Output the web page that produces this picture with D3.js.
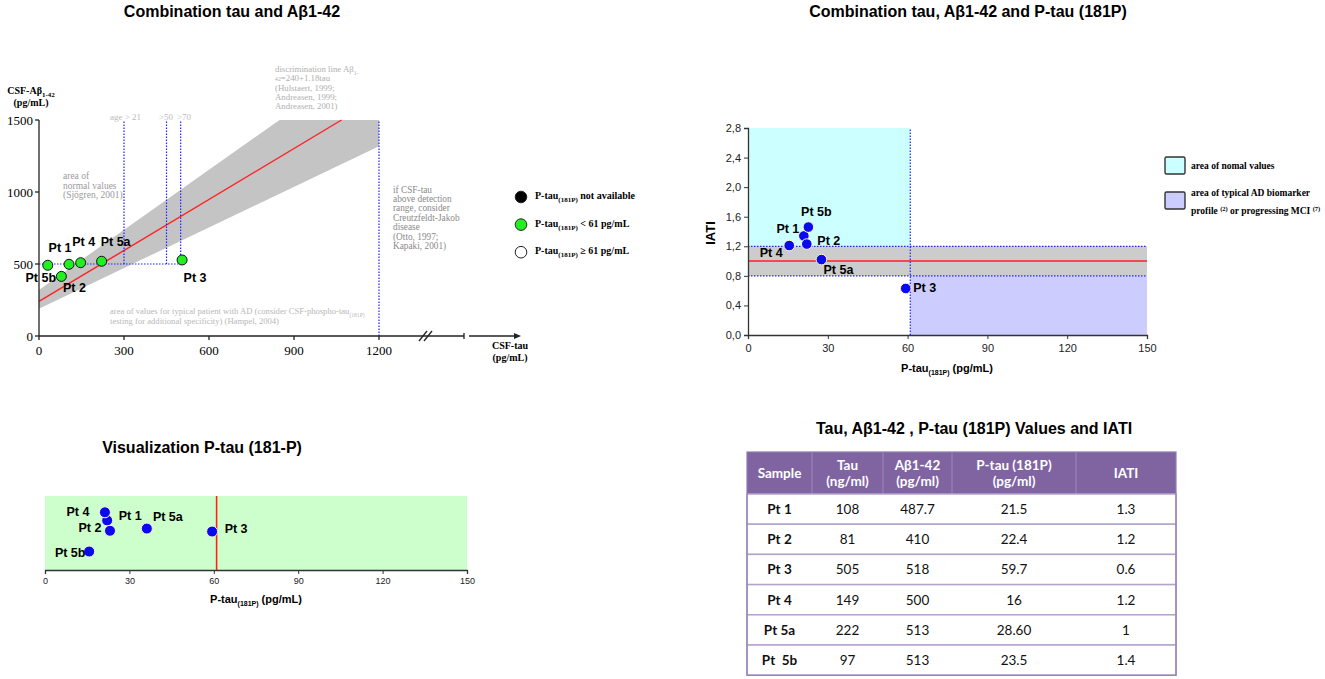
<!DOCTYPE html>
<html>
<head>
<meta charset="utf-8">
<script src="https://cdn.jsdelivr.net/npm/d3@7"></script>
<style>
  body { margin: 0; background: #fff; }
  svg { display: block; }
  .serif { font-family: "Liberation Serif", "DejaVu Serif", serif; }
  .sans { font-family: "Liberation Sans", Arial, sans-serif; }
  .tbl { font-family: Lato, "Open Sans", sans-serif; }
</style>
</head>
<body>
<svg id="chart" width="1325" height="679"></svg>
<script>
// ---- data ----
const patients = ["Pt 1", "Pt 2", "Pt 3", "Pt 4", "Pt 5a", "Pt 5b"];

// panel 1: tau vs Abeta1-42 (as plotted)
const tauPlot = [106, 79, 505, 147, 221, 31];
const abetaPlot = [498, 414, 528, 509, 519, 491];
const tauTicks = [0, 300, 600, 900, 1200];
const abetaTicks = [0, 500, 1000, 1500];
const discLine = { intercept: 240, slope: 1.18 };
const bandLow = { intercept: 190, slope: 0.94 };
const bandHigh = { intercept: 320, slope: 1.39 };
const ageCutoffs = [300, 450, 500];
const ageLabels = ["age > 21", ">50", ">70"];

// panel 2: P-tau vs IATI
const ptau2 = [21.0, 22.1, 59.3, 15.5, 27.6, 22.7];
const iati2 = [1.34, 1.23, 0.63, 1.21, 1.02, 1.46];
const iatiTicks = [0, 0.4, 0.8, 1.2, 1.6, 2.0, 2.4, 2.8];
const ptauTicks = [0, 30, 60, 90, 120, 150];
const ptauCut = 61;
const iatiBand = [0.8, 1.2];

// panel 3: P-tau strip
const ptau3 = [22.1, 23.1, 59.4, 21.3, 36.2, 15.7];
const lane3 = [6.7, 5.3, 5.2, 7.8, 5.6, 2.5];

// table
const tableHeader = [["Sample"], ["Tau", "(ng/ml)"], ["Aβ1-42", "(pg/ml)"], ["P-tau (181P)", "(pg/ml)"], ["IATI"]];
const tableRows = [
  ["Pt 1", "108", "487.7", "21.5", "1.3"],
  ["Pt 2", "81", "410", "22.4", "1.2"],
  ["Pt 3", "505", "518", "59.7", "0.6"],
  ["Pt 4", "149", "500", "16", "1.2"],
  ["Pt 5a", "222", "513", "28.60", "1"],
  ["Pt  5b", "97", "513", "23.5", "1.4"]
];

// ---- layout ----
const off1 = [[-9, -16], [13, 12], [13, 18], [3, -21], [14, -19], [-7, 13]];
const off2 = [[-16, -7], [22, -3], [19, 0], [-18, 7], [17, 10], [8, -15]];
const off3 = [[23, -4], [-20, -3], [24, -3], [-27, 0], [21, -12], [-19, 1]];

const svg = d3.select("#chart");

function title(x, y, txt) {
  svg.append("text").attr("class", "sans").attr("x", x).attr("y", y)
    .attr("text-anchor", "middle").style("font-size", "16px").style("font-weight", "bold")
    .text(txt);
}
function ptLabels(g, xs, ys, offs, size) {
  g.selectAll("text.pt").data(patients).join("text").attr("class", "pt sans")
    .attr("x", (d, i) => xs[i] + offs[i][0]).attr("y", (d, i) => ys[i] + offs[i][1])
    .attr("text-anchor", "middle").attr("dominant-baseline", "central")
    .style("font-size", size + "px").style("font-weight", "bold").text(d => d);
}
// text with subscript: parts = [[text, isSub], ...]; a leading subscript is only shrunk
function richText(sel, parts, subSize) {
  let shift = 0;
  parts.forEach(([t, sub], i) => {
    const want = sub && i > 0 ? 3 : 0;
    const ts = sel.append("tspan").text(t);
    if (want !== shift) ts.attr("dy", want - shift);
    if (sub) ts.style("font-size", subSize + "px");
    shift = want;
  });
  return sel;
}

// ================= Panel 1 =================
title(232, 17, "Combination tau and Aβ1-42");
{
  const x = d3.scaleLinear([0, 1200], [39, 379]);
  const y = d3.scaleLinear([0, 1500], [336, 120]);
  const g = svg.append("g");
  const yMax = 1500;

  // grey band between the two bounding lines
  const tHigh = (yMax - bandHigh.intercept) / bandHigh.slope;
  const band = [
    [0, bandLow.intercept], [1200, bandLow.intercept + bandLow.slope * 1200],
    [1200, yMax], [tHigh, yMax], [0, bandHigh.intercept]
  ];
  g.append("path").attr("d", d3.line(d => x(d[0]), d => y(d[1]))(band) + "Z")
    .attr("fill", "#c4c4c4");

  // discrimination line
  const tEnd = (yMax - discLine.intercept) / discLine.slope;
  g.append("line").attr("x1", x(0)).attr("y1", y(discLine.intercept))
    .attr("x2", x(tEnd)).attr("y2", y(yMax)).attr("stroke", "#ff2020").attr("stroke-width", 1.4);

  const dotted = { stroke: "#2020ff", "stroke-width": 1.2, "stroke-dasharray": "1.5,1.5" };
  function dline(x1, y1, x2, y2) {
    const l = g.append("line").attr("x1", x1).attr("y1", y1).attr("x2", x2).attr("y2", y2);
    Object.entries(dotted).forEach(([k, v]) => l.attr(k, v));
  }
  dline(x(0), y(500), x(500), y(500));
  ageCutoffs.forEach(t => dline(x(t), y(500), x(t), y(yMax)));
  dline(x(1200), y(0), x(1200), y(yMax));

  // age labels
  const ageX = [110, 159, 177];
  g.selectAll("text.age").data(ageLabels).join("text").attr("class", "age serif")
    .attr("x", (d, i) => ageX[i]).attr("y", 120).style("font-size", "9px").attr("fill", "#bbb").text(d => d);

  // axes
  const axis = g.append("g").attr("stroke", "#222").attr("stroke-width", 1.3);
  axis.append("line").attr("x1", x(0)).attr("y1", y(0)).attr("x2", x(0)).attr("y2", y(yMax));
  axis.append("line").attr("x1", x(0)).attr("y1", y(0)).attr("x2", 464).attr("y2", y(0));
  axis.append("line").attr("x1", 464).attr("y1", y(0) - 3).attr("x2", 464).attr("y2", y(0) + 3);
  // axis break
  axis.append("line").attr("x1", 419).attr("y1", y(0) + 5).attr("x2", 427).attr("y2", y(0) - 5);
  axis.append("line").attr("x1", 424).attr("y1", y(0) + 5).attr("x2", 432).attr("y2", y(0) - 5);
  axis.append("line").attr("x1", 469).attr("y1", y(0)).attr("x2", 517).attr("y2", y(0));
  g.append("path").attr("d", `M521,${y(0)} l-7,-3 l0,6 Z`).attr("fill", "#222");

  abetaTicks.forEach(v => {
    axis.append("line").attr("x1", x(0) - 4).attr("x2", x(0)).attr("y1", y(v)).attr("y2", y(v));
    g.append("text").attr("class", "serif").attr("x", 33).attr("y", y(v)).attr("dy", "0.35em")
      .attr("text-anchor", "end").style("font-size", "13px").text(v);
  });
  tauTicks.forEach(v => {
    axis.append("line").attr("x1", x(v)).attr("x2", x(v)).attr("y1", y(0)).attr("y2", y(0) + 4);
    g.append("text").attr("class", "serif").attr("x", x(v)).attr("y", 355)
      .attr("text-anchor", "middle").style("font-size", "13px").text(v);
  });

  // axis titles
  const yt = g.append("text").attr("class", "serif").attr("x", 31).attr("y", 94)
    .attr("text-anchor", "middle").style("font-size", "10px").style("font-weight", "bold");
  richText(yt, [["CSF-Aβ", false], ["1-42", true]], 7);
  g.append("text").attr("class", "serif").attr("x", 31).attr("y", 106).attr("text-anchor", "middle")
    .style("font-size", "10px").style("font-weight", "bold").text("(pg/mL)");
  g.append("text").attr("class", "serif").attr("x", 510).attr("y", 349).attr("text-anchor", "middle")
    .style("font-size", "10px").style("font-weight", "bold").text("CSF-tau");
  g.append("text").attr("class", "serif").attr("x", 510).attr("y", 361).attr("text-anchor", "middle")
    .style("font-size", "10px").style("font-weight", "bold").text("(pg/mL)");

  // annotations
  function block(x0, y0, dy, lines, color, size) {
    const t = g.append("text").attr("class", "serif").attr("fill", color).style("font-size", size + "px");
    lines.forEach((ln, i) => {
      const ts = t.append("tspan").attr("x", x0).attr("y", y0 + i * dy);
      if (Array.isArray(ln)) richText(ts, ln, size - 3);
      else ts.text(ln);
    });
  }
  block(63, 179, 9.6, ["area of", "normal values", "(Sjögren, 2001)"], "#9a9a9a", 9.5);
  block(110, 314, 9.7, [[["area of values for typical patient with AD (consider CSF-phospho-tau", false], ["(181P)", true]],
    "testing for additional specificity) (Hampel, 2004)"], "#b8b8b8", 8.6);
  block(275, 72, 9.3, [[["discrimination line Aβ", false], ["1-", true]], [["42", true], ["=240+1.18tau", false]],
    "(Hulstaert, 1999;", "Andreasen, 1999;", "Andreasen, 2001)"], "#b0b0b0", 8.8);
  block(393, 192.5, 9.45, ["if CSF-tau", "above detection", "range, consider", "Creutzfeldt-Jakob",
    "disease", "(Otto, 1997;", "Kapaki, 2001)"], "#8a8a8a", 9.3);

  // points
  g.selectAll("circle.pt").data(patients).join("circle").attr("class", "pt")
    .attr("cx", (d, i) => x(tauPlot[i])).attr("cy", (d, i) => y(abetaPlot[i])).attr("r", 5)
    .attr("fill", "#22ee22").attr("stroke", "#111").attr("stroke-width", 1);
  ptLabels(g, tauPlot.map(v => x(v)), abetaPlot.map(v => y(v)), off1, 12.5);

  // legend
  const leg = [
    { fill: "#000", tail: " not available" },
    { fill: "#22ee22", tail: " < 61 pg/mL" },
    { fill: "#fff", tail: " ≥ 61 pg/mL" }
  ];
  leg.forEach((d, i) => {
    const cy = 197 + i * 27.6;
    g.append("circle").attr("cx", 521).attr("cy", cy).attr("r", 5.8)
      .attr("fill", d.fill).attr("stroke", "#222").attr("stroke-width", 1);
    const t = g.append("text").attr("class", "serif").attr("x", 535).attr("y", cy + 2)
      .style("font-size", "10px").style("font-weight", "bold");
    richText(t, [["P-tau", false], ["(181P)", true], [d.tail, false]], 7);
  });
}

// ================= Panel 2 =================
title(968, 17, "Combination tau, Aβ1-42 and P-tau (181P)");
{
  const x = d3.scaleLinear([0, 150], [748, 1147]);
  const y = d3.scaleLinear([0, 2.8], [335, 128]);
  const g = svg.append("g");

  g.append("rect").attr("x", x(0)).attr("y", y(2.8)).attr("width", x(ptauCut) - x(0))
    .attr("height", y(iatiBand[1]) - y(2.8)).attr("fill", "#ccffff");
  g.append("rect").attr("x", x(0)).attr("y", y(iatiBand[1])).attr("width", x(150) - x(0))
    .attr("height", y(iatiBand[0]) - y(iatiBand[1])).attr("fill", "#cccccc");
  g.append("rect").attr("x", x(ptauCut)).attr("y", y(iatiBand[0])).attr("width", x(150) - x(ptauCut))
    .attr("height", y(0) - y(iatiBand[0])).attr("fill", "#ccccff");
  g.append("line").attr("x1", x(0)).attr("x2", x(150)).attr("y1", y(1)).attr("y2", y(1))
    .attr("stroke", "#ff2020").attr("stroke-width", 1.5);

  const dl = (x1, y1, x2, y2) => g.append("line").attr("x1", x1).attr("y1", y1).attr("x2", x2).attr("y2", y2)
    .attr("stroke", "#2020ff").attr("stroke-width", 1.2).attr("stroke-dasharray", "1.5,1.5");
  iatiBand.forEach(v => dl(x(0), y(v), x(150), y(v)));
  dl(x(ptauCut), y(0), x(ptauCut), y(2.8));

  const fmt = v => d3.format(".1f")(v).replace(".", ",");
  const ya = g.append("g").attr("transform", `translate(${x(0)},0)`)
    .call(d3.axisLeft(y).tickValues(iatiTicks).tickFormat(fmt).tickSize(4).tickPadding(3));
  const xa = g.append("g").attr("transform", `translate(0,${y(0)})`)
    .call(d3.axisBottom(x).tickValues(ptauTicks).tickSize(4).tickPadding(5));
  [ya, xa].forEach(a => {
    a.select(".domain").attr("stroke", "#333").attr("stroke-width", 1.3);
    a.selectAll(".tick line").attr("stroke", "#333");
    a.selectAll("text").attr("class", "sans").style("font-size", "11px").attr("fill", "#222");
  });

  g.append("text").attr("class", "sans").attr("transform", "translate(715,233) rotate(-90)")
    .attr("text-anchor", "middle").style("font-size", "13px").style("font-weight", "bold").text("IATI");
  const xt = g.append("text").attr("class", "sans").attr("x", 947).attr("y", 372).attr("text-anchor", "middle")
    .style("font-size", "11px").style("font-weight", "bold");
  richText(xt, [["P-tau", false], ["(181P)", true], [" (pg/mL)", false]], 7);

  g.selectAll("circle.pt").data(patients).join("circle").attr("class", "pt")
    .attr("cx", (d, i) => x(ptau2[i])).attr("cy", (d, i) => y(iati2[i])).attr("r", 5.3)
    .attr("fill", "#0a0aee").attr("stroke", "#fff8d0").attr("stroke-width", 1);
  ptLabels(g, ptau2.map(v => x(v)), iati2.map(v => y(v)), off2, 12.5);

  // legend
  const legItems = [
    { fill: "#ccffff", y: 157, lines: ["area of nomal values"] },
    { fill: "#ccccff", y: 192, lines: [[["area of typical AD biomarker", false]],
      [["profile ", false], ["(2)", "sup"], [" or progressing MCI ", false], ["(7)", "sup"]]] }
  ];
  legItems.forEach(d => {
    g.append("rect").attr("x", 1165).attr("y", d.y).attr("width", 20).attr("height", 17).attr("rx", 1.5)
      .attr("fill", d.fill).attr("stroke", "#333").attr("stroke-width", 1.4);
    d.lines.forEach((ln, j) => {
      const t = g.append("text").attr("class", "serif").attr("x", 1191)
        .attr("y", (d.lines.length === 1 ? d.y + 12 : d.y + 4 + j * 17.5))
        .style("font-size", "9.5px").style("font-weight", "bold");
      if (typeof ln === "string") t.text(ln);
      else ln.forEach(([s, sup]) => {
        const ts = t.append("tspan").text(s);
        if (sup) ts.attr("baseline-shift", "super").style("font-size", "6.5px");
      });
    });
  });
}

// ================= Panel 3 =================
title(202, 453, "Visualization P-tau (181-P)");
{
  const x = d3.scaleLinear([0, 150], [45, 467]);
  const y = d3.scaleLinear([0, 10], [570, 496]);
  const g = svg.append("g");
  g.append("rect").attr("x", x(0)).attr("y", y(10)).attr("width", x(150) - x(0))
    .attr("height", y(0) - y(10)).attr("fill", "#ccffcc");
  g.append("line").attr("x1", x(ptauCut)).attr("x2", x(ptauCut)).attr("y1", y(0)).attr("y2", y(10))
    .attr("stroke", "#ff2020").attr("stroke-width", 1.6);
  const xa = g.append("g").attr("transform", `translate(0,${y(0)})`)
    .call(d3.axisBottom(x).tickValues(ptauTicks).tickSize(4).tickPadding(4));
  xa.select(".domain").attr("stroke", "#333").attr("stroke-width", 1.3);
  xa.selectAll(".tick line").attr("stroke", "#333");
  xa.selectAll("text").attr("class", "sans").style("font-size", "9px").attr("fill", "#222");

  const xt = g.append("text").attr("class", "sans").attr("x", 256).attr("y", 603).attr("text-anchor", "middle")
    .style("font-size", "11px").style("font-weight", "bold");
  richText(xt, [["P-tau", false], ["(181P)", true], [" (pg/mL)", false]], 7);

  g.selectAll("circle.pt").data(patients).join("circle").attr("class", "pt")
    .attr("cx", (d, i) => x(ptau3[i])).attr("cy", (d, i) => y(lane3[i])).attr("r", 5.5)
    .attr("fill", "#0a0aee").attr("stroke", "#fff8d0").attr("stroke-width", 1);
  ptLabels(g, ptau3.map(v => x(v)), lane3.map(v => y(v)), off3, 12.5);
}

// ================= Table =================
title(974, 434, "Tau, Aβ1-42 , P-tau (181P) Values and IATI");
{
  const colEdges = [747, 812, 883, 952, 1076, 1176];
  const top = 452, headH = 42, rowH = 30.2;
  const g = svg.append("g").attr("class", "tbl");
  g.append("rect").attr("x", colEdges[0]).attr("y", top).attr("width", colEdges[5] - colEdges[0])
    .attr("height", headH).attr("fill", "#8064a2");
  // header separators
  colEdges.slice(1, -1).forEach(cx => g.append("line").attr("x1", cx).attr("x2", cx)
    .attr("y1", top).attr("y2", top + headH).attr("stroke", "#9c86b8").attr("stroke-width", 1));
  tableHeader.forEach((lines, c) => {
    const cx = (colEdges[c] + colEdges[c + 1]) / 2;
    lines.forEach((ln, j) => {
      g.append("text").attr("x", cx).attr("y", top + headH / 2 + (j - (lines.length - 1) / 2) * 16)
        .attr("dy", "0.36em").attr("text-anchor", "middle").attr("fill", "#fff")
        .style("font-size", "13.5px").style("font-weight", "bold").text(ln);
    });
  });
  tableRows.forEach((row, r) => {
    const ry = top + headH + r * rowH;
    g.append("rect").attr("x", colEdges[0]).attr("y", ry).attr("width", colEdges[5] - colEdges[0])
      .attr("height", rowH).attr("fill", "#fff").attr("stroke", "#b4a4cc").attr("stroke-width", 1.5);
    row.forEach((v, c) => {
      g.append("text").attr("x", (colEdges[c] + colEdges[c + 1]) / 2).attr("y", ry + rowH / 2)
        .attr("dy", "0.36em").attr("text-anchor", "middle").attr("fill", "#111")
        .style("font-size", "13.5px").style("font-weight", c === 0 ? "bold" : "normal")
        .style("white-space", "pre").text(v);
    });
  });
  g.append("rect").attr("x", colEdges[0]).attr("y", top).attr("width", colEdges[5] - colEdges[0])
    .attr("height", headH + rowH * tableRows.length).attr("fill", "none")
    .attr("stroke", "#8f7bb0").attr("stroke-width", 1.2);
}
</script>
</body>
</html>
